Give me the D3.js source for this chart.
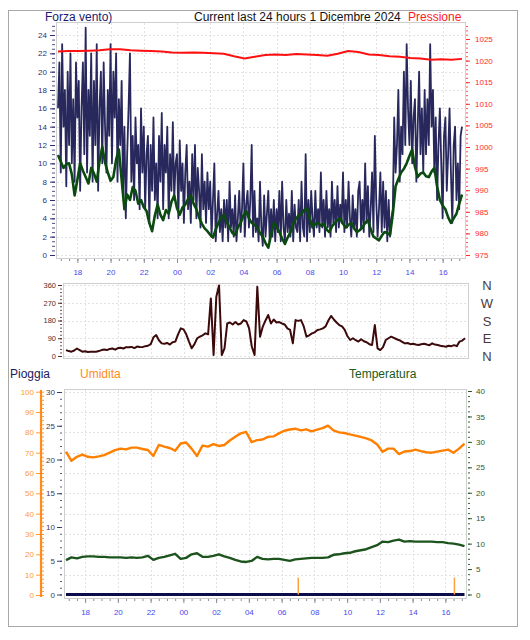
<!DOCTYPE html>
<html><head><meta charset="utf-8">
<script src="https://cdn.jsdelivr.net/npm/d3@7"></script>
<style>body{margin:0;background:#fff;} svg{display:block;font-family:"Liberation Sans",Arial,sans-serif;}</style>
</head><body><svg id="c" width="530" height="640"></svg>
<script>
// ---------- DATA ----------
const startTime = "2024-11-30T16:50";
const endTime = "2024-12-01T17:10";
const firstTickTime = "2024-11-30T18:00";
const hourTicks = ["18","20","22","00","02","04","06","08","10","12","14","16"];
const windTicks = [0,2,4,6,8,10,12,14,16,18,20,22,24];
const pressureTicks = [975,980,985,990,995,1000,1005,1010,1015,1020,1025];
const dirTicks = [0,90,180,270,360];
const dirLabels = ["N","E","S","W","N"];
const rainTicks = [0,5,10,15,20,25,30];
const humTicks = [0,10,20,30,40,50,60,70,80,90,100];
const tempTicks = [0,5,10,15,20,25,30,35,40];

// Forza vento: raffica (5 min)
const windGust = [16,21,
 9,23,14,18,7.5,20,12,22,10,17,8,21,
 15,19,7,16,21,11,24.8,9,18,13,22,8,
 19,12,23,7,16,20,10,21,14,9,18,13,
 23,10,20,15,22,8,17,12,19,7,14,4,
 11,16,22,8,13,6,15,10,12,5,16,9,
 14,5,11,13,3.5,12,7,15,6,10,4,13,
 8,15.5,5,12,9,14,4,11,7,14.5,6,10,
 11,4,12.5,7,10,3.5,9,12,5,8,3.5,11,
 6,12,4,9.5,7,3,11,5,8,3.5,9,5,
 8,2,6,10,1.5,4.5,7,2.5,5,1.5,6,3,
 6,1.5,8,3,5,2,6.5,1.5,4,7,2.5,5,
 10,2,5.5,7,3,6,12,2,7,2.5,4,1.5,
 8,3,1,6.5,2,4.5,7,1.5,5,2,6,1.5,
 5,2.5,7,1.5,8,3,1.5,6,2.5,4.5,2,7,
 1.5,5.5,3,2.5,6,1.5,8,3,2,11,1.5,6,
 2.5,7,4,2,7,3,5,2.5,9,3,6,2,
 7,3,5,2,8,3.5,6,2.5,7.5,3,5.5,3.5,
 9,2.5,6,3,8,4,2,6.5,3,5,2,7,
 8,3,6,2.5,10,3.5,7.5,2,5,9,2.5,13,
 6,2,5,9,2.5,8,3,7,1.5,6,2,4,
 5,15,9,12,18,8,14,11,20,12,23,16,
 12,19,10,15,17,8,14,20,11,16,9,18,
 11,17,12,23,14,18,9,15,6,12,16,10,
 4,13,15,7,11,16,9,3.5,12,14,6,10,
 5,13,14];
// Forza vento: media (10 min)
const windAvg = [10.9,10.2,9.5,9.9,10,8.8,6.5,8.2,10,9.2, 8.5,7.8,9.5,8.9,8,10.2,11.8,10.1,9,8.1,
 8.5,10.4,11.5,8.2,5,6.6,6,7.4,7,5.6, 6,5.2,4.8,3.5,2.6,4.3,5.5,4.4,3.8,4.9,
 4.5,5.8,6.5,5.1,4.4,5.2,5.5,6.1,6.5,5.6, 5,4.1,3.4,2.9,2.6,2.2,1.9,2.8,3.5,4.1,
 4.4,3.6,3,2.4,2.2,3.0,3.5,4.3,4.8,4.0, 3.5,3.3,3,2.4,2,1.3,0.8,2.2,3.5,3.1,
 2.5,1.8,1.2,1.9,2.5,3.4,4,4.3,4.5,4.9, 5.1,4.0,3,3.4,3.5,3.2,3.4,2.8,2.5,3.1,
 3.5,3.8,4,3.4,3,3.3,3.5,2.9,2.5,2.7, 3,3.5,3.8,2.8,2,1.8,1.6,2.1,2.5,2.4,
 2.2,4.5,7.5,8.3,9,9.4,10,10.8,11.5,9.6, 8.5,8.9,9,8.6,8.5,9.1,9.5,7.5,6,5.4,
 5,4.1,3.5,4.0,4.5,5.6,6.6];
// Pressione (hPa)
const pressure = [1022.1,1022.2,1022.2,1022.3,1022.4,1022.6,1022.6,1022.4,1022.3,1022.2,
 1022.1,1021.9,1021.8,1021.9,1021.8,1021.7,1021.6,1021.0,1020.5,1020.9,
 1021.3,1021.4,1021.3,1021.5,1021.4,1021.3,1021.1,1021.6,1022.2,1022.0,
 1021.4,1021.3,1021.0,1020.9,1020.6,1020.5,1020.2,1020.3,1020.2,1020.4];
// Direzione vento (gradi, 10 min)
const windDir = [30,25,22,28,38,30,22,24,20,22, 21,22,25,30,33,30,36,38,32,40,
 42,38,45,44,46,40,48,46,45,50, 52,60,95,106,80,64,62,66,58,70,
 73,110,140,135,110,73,39,60,90,98, 105,115,110,292,5,300,357,5,39,165,
 170,160,172,160,165,182,175,140,47,5, 351,98,149,180,208,165,185,170,172,165,
 160,140,132,64,182,178,182,150,98,105, 115,120,132,135,140,150,180,203,185,170,
 157,150,132,100,81,90,80,73,85,75, 70,60,56,157,39,30,45,81,90,98,
 92,85,80,72,64,66,60,62,58,56, 60,62,58,55,64,58,56,52,50,47,
 52,50,55,50,73,78,90];
// Umidita (%, 20 min)
const humidity = [70.5,66,68,69,68,67.7,68.2,68.8,70,71.3,72,71.6,72.5,72.5,71.8,71.3,68.4,73.8,73,72.3,
 71,74.5,75,72,68.4,73.5,73,74.2,73.3,73.8,76,77.8,79.5,80.2,75.2,76.2,76.5,77.8,78,79.5,
 80.8,81.4,81.8,81,81.5,80.5,81.3,82.1,83.3,81,80,79.7,79,78.4,77.8,77,76,74,70.5,72,
 72,69.3,70.6,70.8,71.5,70.8,70.2,70,70.5,71,71.5,70,72,74.5];
// Temperatura (°C, 20 min)
const temperature = [6.75,7.3,7.1,7.4,7.5,7.5,7.4,7.4,7.3,7.3,7.3,7.2,7.3,7.2,7.3,7.6,6.8,7.2,7.4,7.7,
 8.0,7.0,7.2,7.9,8.1,7.4,7.4,7.6,7.9,7.5,7.2,6.8,6.5,6.4,6.6,7.4,7.0,6.9,7.0,7.0,
 6.8,6.6,6.9,7.0,7.1,7.2,7.2,7.2,7.3,7.8,7.9,8.1,8.2,8.5,8.7,8.9,9.3,9.7,10.4,10.3,
 10.6,10.8,10.4,10.5,10.4,10.4,10.4,10.4,10.3,10.3,10.1,10.0,9.8,9.5];
// Pioggia (mm)
const rain = [0, 0];
const rainRateTimes = ["2024-12-01T07:01","2024-12-01T16:33"];
const rainRateValues = [2.5, 2.5];

// ---------- SETUP ----------
const parse = d3.timeParse("%Y-%m-%dT%H:%M");
const t0 = parse(startTime), t1 = parse(endTime);
const timesFor = n => d3.range(n).map(i => new Date(+t0 + i * (t1 - t0) / (n - 1)));
const firstTick = parse(firstTickTime);
const tickDates = hourTicks.map((h, i) => d3.timeHour.offset(firstTick, 2 * i));
const minorTimes = d3.timeMinute.every(30).range(t0, t1);

const svg = d3.select("#c");
svg.append("rect").attr("x", 8.5).attr("y", 10.5).attr("width", 509).attr("height", 616)
  .attr("fill", "#fff").attr("stroke", "#a8a8a8");

function styleAxis(sel, color, fs) {
  sel.select(".domain").remove();
  sel.selectAll(".tick line").attr("stroke", color);
  sel.selectAll(".tick text").attr("fill", color).attr("font-size", fs || 8)
     .attr("font-family", "'Liberation Sans',Arial,sans-serif");
}
function plotBox(x0, y0, x1, y1) {
  svg.append("rect").attr("x", x0 + 0.5).attr("y", y0 + 0.5).attr("width", x1 - x0).attr("height", y1 - y0)
    .attr("fill", "#fff").attr("stroke", "#cfcfcf");
}
function grid(xs, ys, yVals, x0, x1, y0, y1) {
  const g = svg.append("g").attr("stroke", "#e2e2e2").attr("stroke-dasharray", "2,2").attr("stroke-width", 1);
  yVals.forEach(v => g.append("line").attr("x1", x0 + 1).attr("x2", x1).attr("y1", Math.round(ys(v)) + 0.5).attr("y2", Math.round(ys(v)) + 0.5));
  tickDates.forEach(d => g.append("line").attr("y1", y0 + 1).attr("y2", y1).attr("x1", Math.round(xs(d)) + 0.5).attr("x2", Math.round(xs(d)) + 0.5));
}
function xAxisAt(xs, y, color, labels) {
  const gm = svg.append("g").attr("transform", `translate(0,${y})`)
    .call(d3.axisBottom(xs).tickValues(minorTimes).tickSize(2).tickFormat(""));
  styleAxis(gm, "#8a8a9a");
  if (labels) {
    const g = svg.append("g").attr("transform", `translate(0,${y})`)
      .call(d3.axisBottom(xs).tickValues(tickDates).tickSize(4).tickPadding(6).tickFormat((d, i) => hourTicks[i]));
    styleAxis(g, color);
    g.selectAll(".tick line").attr("stroke", "#8a8a9a");
  }
}

// ---------- TOP PANEL: wind + pressure ----------
const xTop = d3.scaleTime().domain([t0, t1]).range([58, 462]);
const yWind = d3.scaleLinear().domain([0, 24]).range([255, 35]);
const yPress = d3.scaleLinear().domain([975, 1025]).range([255, 39]);
plotBox(56, 22, 465, 258);
grid(xTop, yWind, windTicks, 56, 465, 22, 258);

let g = svg.append("g").attr("transform", "translate(55,0)")
  .call(d3.axisLeft(yWind).tickValues(d3.range(0, 25.01, 0.5)).tickSize(3).tickFormat(""));
styleAxis(g, "#50508a");
g = svg.append("g").attr("transform", "translate(55,0)")
  .call(d3.axisLeft(yWind).tickValues(windTicks).tickSize(5).tickPadding(3));
styleAxis(g, "#2e2e78");

g = svg.append("g").attr("transform", "translate(466,0)")
  .call(d3.axisRight(yPress).tickValues(d3.range(975, 1029, 1)).tickSize(2).tickFormat(""));
styleAxis(g, "#ff5050");
g = svg.append("g").attr("transform", "translate(466,0)")
  .call(d3.axisRight(yPress).tickValues(pressureTicks).tickSize(4).tickPadding(5).tickFormat(d3.format("d")));
styleAxis(g, "#ff2a2a");

xAxisAt(xTop, 259, "#4848ee", true);

const gustT = timesFor(windGust.length), avgT = timesFor(windAvg.length), presT = timesFor(pressure.length);
svg.append("path").datum(windGust.map((v, i) => [gustT[i], v]))
  .attr("d", d3.line().x(d => xTop(d[0])).y(d => yWind(d[1])))
  .attr("fill", "none").attr("stroke", "#16164f").attr("stroke-width", 1.8).attr("stroke-opacity", 0.92)
  .attr("stroke-linejoin", "round");
svg.append("path").datum(windAvg.map((v, i) => [avgT[i], v]))
  .attr("d", d3.line().x(d => xTop(d[0])).y(d => yWind(d[1])))
  .attr("fill", "none").attr("stroke", "#0b4a10").attr("stroke-width", 2.6).attr("stroke-linejoin", "round");
svg.append("path").datum(pressure.map((v, i) => [presT[i], v]))
  .attr("d", d3.line().x(d => xTop(d[0])).y(d => yPress(d[1])))
  .attr("fill", "none").attr("stroke", "#ff1010").attr("stroke-width", 2);

svg.append("text").attr("x", 45).attr("y", 21).attr("font-size", 12).attr("fill", "#1a1a6e").text("Forza vento)");
svg.append("text").attr("x", 194).attr("y", 21).attr("font-size", 12).attr("fill", "#111").text("Current last 24 hours 1 Dicembre 2024");
svg.append("text").attr("x", 408).attr("y", 21).attr("font-size", 12).attr("fill", "#ff1a1a").text("Pressione");

// ---------- MIDDLE PANEL: wind direction ----------
const xMid = d3.scaleTime().domain([t0, t1]).range([66, 465]);
const yDir = d3.scaleLinear().domain([0, 360]).range([356, 285]);
plotBox(63, 283, 468, 358);
grid(xMid, yDir, dirTicks, 63, 468, 283, 358);
g = svg.append("g").attr("transform", "translate(62,0)")
  .call(d3.axisLeft(yDir).tickValues(d3.range(0, 361, 18)).tickSize(2).tickFormat(""));
styleAxis(g, "#6a4a4a");
g = svg.append("g").attr("transform", "translate(62,0)")
  .call(d3.axisLeft(yDir).tickValues(dirTicks).tickSize(4).tickPadding(2));
styleAxis(g, "#5a2a2a", 7.5);
dirTicks.forEach((v, i) => svg.append("text").attr("x", 487).attr("y", yDir(v) + 5)
  .attr("text-anchor", "middle").attr("font-size", 13).attr("fill", "#4a3838").text(dirLabels[i]));
const dirT = timesFor(windDir.length);
svg.append("path").datum(windDir.map((v, i) => [dirT[i], v]))
  .attr("d", d3.line().x(d => xMid(d[0])).y(d => yDir(d[1])))
  .attr("fill", "none").attr("stroke", "#3c0a0a").attr("stroke-width", 2).attr("stroke-linejoin", "round");

// ---------- BOTTOM PANEL: rain / humidity / temperature ----------
const xBot = d3.scaleTime().domain([t0, t1]).range([66, 464.5]);
const yHum = d3.scaleLinear().domain([0, 100]).range([595, 391.7]);
const yRain = d3.scaleLinear().domain([0, 30]).range([594.5, 392]);
const yTemp = d3.scaleLinear().domain([0, 40]).range([594.5, 391]);
plotBox(64, 389, 466, 598);
grid(xBot, yHum, humTicks.slice(1), 64, 466, 389, 598);

svg.append("line").attr("x1", 41).attr("x2", 41).attr("y1", 390).attr("y2", 597)
  .attr("stroke", "#ff8c1a").attr("stroke-width", 2.2);
g = svg.append("g").attr("transform", "translate(42,0)")
  .call(d3.axisRight(yHum).tickValues(d3.range(0, 101, 2)).tickSize(2).tickFormat(""));
styleAxis(g, "#ff9a3a");
g = svg.append("g").attr("transform", "translate(40,0)")
  .call(d3.axisLeft(yHum).tickValues(humTicks).tickSize(4).tickPadding(2));
styleAxis(g, "#ff9a3a");
g = svg.append("g").attr("transform", "translate(62,0)")
  .call(d3.axisLeft(yRain).tickValues(d3.range(0, 31, 1)).tickSize(2).tickFormat(""));
styleAxis(g, "#5a5a7a");
g = svg.append("g").attr("transform", "translate(62,0)")
  .call(d3.axisLeft(yRain).tickValues(rainTicks).tickSize(5).tickPadding(2));
styleAxis(g, "#3a3a5a");
g = svg.append("g").attr("transform", "translate(468,0)")
  .call(d3.axisRight(yTemp).tickValues(d3.range(0, 41, 1)).tickSize(2).tickFormat(""));
styleAxis(g, "#2e6a2e");
g = svg.append("g").attr("transform", "translate(468,0)")
  .call(d3.axisRight(yTemp).tickValues(tempTicks).tickSize(4).tickPadding(4));
styleAxis(g, "#2e5a2e");

xAxisAt(xBot, 599, "#4848ee", true);

const humT = timesFor(humidity.length), tempT = timesFor(temperature.length), rainT = timesFor(rain.length);
svg.append("path").datum(humidity.map((v, i) => [humT[i], v]))
  .attr("d", d3.line().x(d => xBot(d[0])).y(d => yHum(d[1])))
  .attr("fill", "none").attr("stroke", "#ff8000").attr("stroke-width", 2.4).attr("stroke-linejoin", "round");
svg.append("path").datum(temperature.map((v, i) => [tempT[i], v]))
  .attr("d", d3.line().x(d => xBot(d[0])).y(d => yTemp(d[1])))
  .attr("fill", "none").attr("stroke", "#1d531d").attr("stroke-width", 2.4).attr("stroke-linejoin", "round");
svg.append("path").datum(rain.map((v, i) => [rainT[i], v]))
  .attr("d", d3.line().x(d => xBot(d[0])).y(d => yRain(d[1])))
  .attr("fill", "none").attr("stroke", "#0c0c4a").attr("stroke-width", 3);
rainRateTimes.forEach((t, i) => {
  const xx = xBot(parse(t));
  svg.append("line").attr("x1", xx).attr("x2", xx).attr("y1", yRain(0)).attr("y2", yRain(rainRateValues[i]))
    .attr("stroke", "#ffa040").attr("stroke-width", 1.5);
});

svg.append("text").attr("x", 10).attr("y", 378).attr("font-size", 12).attr("fill", "#1a1a5a").text("Pioggia");
svg.append("text").attr("x", 80).attr("y", 378).attr("font-size", 12).attr("fill", "#ff8c1a").text("Umidita");
svg.append("text").attr("x", 349).attr("y", 378).attr("font-size", 12).attr("fill", "#1a5a1a").text("Temperatura");
</script></body></html>
